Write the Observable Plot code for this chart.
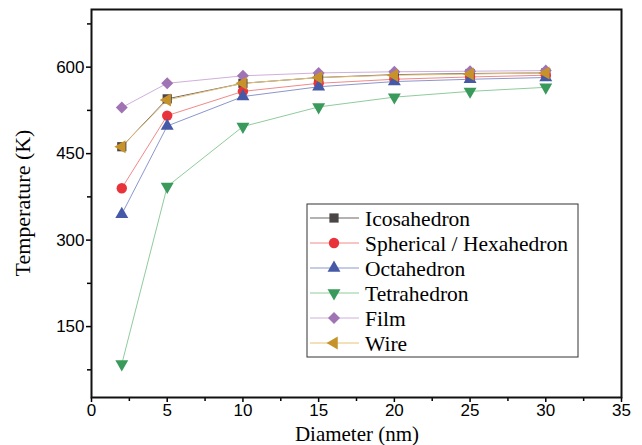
<!DOCTYPE html>
<html><head><meta charset="utf-8">
<script src="https://cdn.jsdelivr.net/npm/d3@7"></script>
<script src="https://cdn.jsdelivr.net/npm/@observablehq/plot@0.6"></script>
<style>
body{margin:0;background:#fff}
.serif{font-family:"Liberation Serif","Times New Roman","DejaVu Serif",serif !important;}
</style>
</head><body><div id="chart"></div>
<script>
const diameters = [2, 5, 10, 15, 20, 25, 30];
const seriesNames = ["Icosahedron", "Spherical / Hexahedron", "Octahedron", "Tetrahedron", "Film", "Wire"];
const icosahedron = [462, 545, 572, 582, 587, 589, 590];
const spherical   = [390, 516, 558, 572, 579, 583, 586];
const octahedron  = [345, 498, 549, 566, 575, 579, 582];
const tetrahedron = [85, 393, 497, 531, 548, 558, 565];
const film        = [530, 572, 585, 590, 592, 593, 594];
const wire        = [462, 543, 572, 582, 586, 588, 590];
const xTicks = [0, 5, 10, 15, 20, 25, 30, 35];
const xMinor = [2.5, 7.5, 12.5, 17.5, 22.5, 27.5, 32.5];
const yTicks = [150, 300, 450, 600];
const yMinor = [75, 225, 375, 525, 675];

const values = [icosahedron, spherical, octahedron, tetrahedron, film, wire];
const styles = [
  {marker: "#4a4646", line: "#6a6464", symbol: "square", r: 5.2, rotate: 0},
  {marker: "#e8333a", line: "#f08a88", symbol: "circle", r: 5.2, rotate: 0},
  {marker: "#4659a6", line: "#8c96cc", symbol: "triangle", r: 4.8, rotate: 0},
  {marker: "#3a9a5c", line: "#8fcc9c", symbol: "triangle", r: 4.8, rotate: 180},
  {marker: "#a074b4", line: "#cfb0dc", symbol: "diamond2", r: 5.4, rotate: 0},
  {marker: "#c8922a", line: "#e6c278", symbol: "triangle", r: 4.8, rotate: -90}
];
const rows = seriesNames.flatMap((s, i) => diameters.map((d, j) => ({series: s, d, t: values[i][j]})));

const marks = [];
seriesNames.forEach((s, i) => {
  const data = rows.filter(r => r.series === s);
  marks.push(Plot.line(data, {x: "d", y: "t", stroke: styles[i].line, strokeWidth: 1}));
});
seriesNames.forEach((s, i) => {
  const data = rows.filter(r => r.series === s);
  marks.push(Plot.dot(data, {x: "d", y: "t", fill: styles[i].marker, stroke: "none", symbol: styles[i].symbol, r: styles[i].r, rotate: styles[i].rotate}));
});

const plot = Plot.plot({
  width: 642, height: 445,
  marginLeft: 91, marginRight: 21, marginTop: 9, marginBottom: 48,
  style: {fontFamily: "'Liberation Sans', Arial, Helvetica, sans-serif", fontSize: "17px", color: "#000", background: "#fff"},
  x: {domain: [0, 35]},
  y: {domain: [27, 700]},
  marks: [
    Plot.axisX({ticks: xTicks, tickSize: 5, tickPadding: 1, tickFormat: d => d, label: null, fontSize: 17, strokeWidth: 1.5}),
    Plot.axisX({ticks: xMinor, tickSize: 4, text: null, label: null, strokeWidth: 1.5}),
    Plot.axisY({ticks: yTicks, tickSize: 5, tickPadding: 2, tickFormat: d => d, label: null, fontSize: 17, strokeWidth: 1.5}),
    Plot.axisY({ticks: yMinor, tickSize: 4, text: null, label: null, strokeWidth: 1.5}),
    Plot.frame({stroke: "#111", strokeWidth: 2}),
    ...marks
  ]
});

const svg = d3.select(plot);
svg.append("text").attr("class", "serif").attr("x", 357).attr("y", 441)
  .style("text-anchor", "middle").style("font-size", "21px").style("fill", "#000").text("Diameter (nm)");
svg.append("text").attr("class", "serif").attr("transform", "translate(30,203) rotate(-90)")
  .style("text-anchor", "middle").style("font-size", "22px").style("fill", "#000").text("Temperature (K)");

// legend
const lg = svg.append("g").attr("transform", "translate(307,204)");
lg.append("rect").attr("width", 271).attr("height", 153).attr("fill", "#fff").attr("stroke", "#333").attr("stroke-width", 1);
const symMap = {square: d3.symbolSquare, circle: d3.symbolCircle, triangle: d3.symbolTriangle, diamond2: d3.symbolDiamond2};
seriesNames.forEach((s, i) => {
  const y = 14 + i * 25;
  const st = styles[i];
  lg.append("line").attr("x1", 3).attr("x2", 52).attr("y1", y).attr("y2", y).attr("stroke", st.line).attr("stroke-width", 1);
  lg.append("path").attr("d", d3.symbol(symMap[st.symbol], st.r * st.r * Math.PI)())
    .attr("transform", `translate(27,${y}) rotate(${st.rotate})`).attr("fill", st.marker);
  lg.append("text").attr("class", "serif").attr("x", 58).attr("y", y).attr("dy", "0.35em")
    .style("text-anchor", "start").style("font-size", "21.5px").style("fill", "#000").text(s);
});

document.getElementById("chart").append(plot);
</script>
</body></html>
